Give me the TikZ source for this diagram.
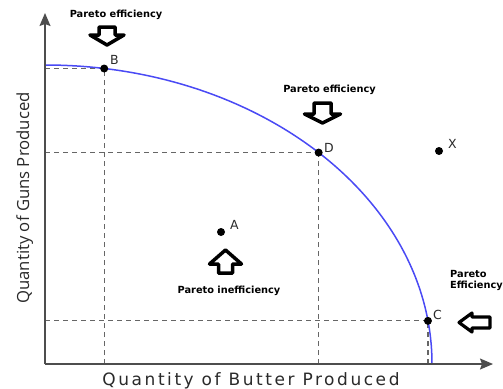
\documentclass[tikz,border=0pt]{standalone}
\usepackage{fontspec}
\setmainfont{DejaVu Sans}
\newfontfamily\ylabfont{Open Sans}
\usetikzlibrary{calc,arrows.meta}
\definecolor{axisgray}{HTML}{4D4D4D}
\definecolor{guidegray}{HTML}{666666}
\definecolor{ppfblue}{HTML}{4A4AF5}
\definecolor{ptgray}{HTML}{2A2A2A}
\begin{document}
\begin{tikzpicture}[x=1pt,y=-1pt,
  axis/.style={draw=axisgray, line width=1.4pt, -{Stealth[length=13pt,width=11pt,inset=2pt]}},
  guide/.style={draw=guidegray, line width=1.2pt, dash pattern=on 5pt off 4pt},
  ppf/.style={draw=ppfblue, line width=1.5pt},
  dotmark/.style={circle, fill=black, inner sep=0pt, minimum size=8pt},
  ptlabel/.style={font=\fontsize{12.5}{13}\selectfont, text=ptgray, inner sep=0pt, anchor=base west},
  note/.style={font=\bfseries\fontsize{9.8}{11.5}\selectfont, inner sep=0pt, text=black},
  blockarrow/.style={draw=black, fill=white, line width=3.5pt, line join=round}
]
\useasboundingbox (0,0) rectangle (503,388);
\fill[white] (0,0) rectangle (503,388);

% axes
\coordinate (O) at (45,364);
\coordinate (Ytip) at (45,13);
\coordinate (Xtip) at (493,364);

% points on the production possibility frontier (quarter ellipse about O)
\coordinate (B) at ($(O)+(81.2:387pt and 299pt)$);
\coordinate (D) at ($(O)+(45:387pt and 299pt)$);
\coordinate (C) at ($(O)+(8.3:387pt and 299pt)$);
\coordinate (A) at (221,232);
\coordinate (X) at (439,151);

% dashed guides to the axes
\draw[guide] (B -| O) -- (B);
\draw[guide] (B |- O) -- (B);
\draw[guide] (D -| O) -- (D);
\draw[guide] (D |- O) -- (D);
\draw[guide] (C -| O) -- (C);
\draw[guide] (C |- O) -- (C);

% frontier
\draw[ppf] (45,65) arc[start angle=90, end angle=0, x radius=387pt, y radius=299pt];

\draw[axis] (O) -- (Ytip);
\draw[axis] (O) -- (Xtip);

% points and their letters
\node[dotmark] (ptB) at (B) {};
\node[dotmark] (ptD) at (D) {};
\node[dotmark] (ptC) at (C) {};
\node[dotmark] (ptA) at (A) {};
\node[dotmark] (ptX) at (X) {};
\node[ptlabel] (labB) at (110,64) {B};
\node[ptlabel] (labD) at (324,152) {D};
\node[ptlabel] (labC) at (433,319) {C};
\node[ptlabel] (labA) at (230,229) {A};
\node[ptlabel] (labX) at (448,148) {X};

% hollow block arrows
\draw[blockarrow] (99,27) -- (115,27) -- (115,35) -- (124,35) -- (107,45) -- (90,35) -- (99,35) -- cycle;
\draw[blockarrow] (314,103) -- (331,103) -- (331,114) -- (340.5,114) -- (322.5,123) -- (304.5,114) -- (314,114) -- cycle;
\draw[blockarrow] (218.5,273) -- (232.5,273) -- (232.5,264) -- (241.5,264) -- (225.5,250) -- (209.5,264) -- (218.5,264) -- cycle;
\draw[blockarrow, line width=3.2pt] (490,317) -- (490,328) -- (472,328) -- (472,332) -- (459,322.5) -- (472,313) -- (472,317) -- cycle;

% annotations
\node[note] (noteB) at (116,15) {Pareto efficiency};
\node[note] (noteD) at (329.5,90) {Pareto efficiency};
\node[note] (noteA) at (229,291) {Pareto inefficiency};
\node[note, align=left, anchor=north west] (noteC) at (450,270) {Pareto\\Efficiency};

% axis titles
\node[font=\fontsize{17}{17}\selectfont\addfontfeatures{LetterSpace=15}, text=ptgray, anchor=base, inner sep=0pt] (xlab) at (251,385) {Quantity of Butter Produced};
\node[font=\ylabfont\fontsize{16.7}{17}\selectfont, text=ptgray, rotate=90, anchor=base, inner sep=0pt] (ylab) at (29,198) {Quantity of Guns Produced};
\end{tikzpicture}
\end{document}
